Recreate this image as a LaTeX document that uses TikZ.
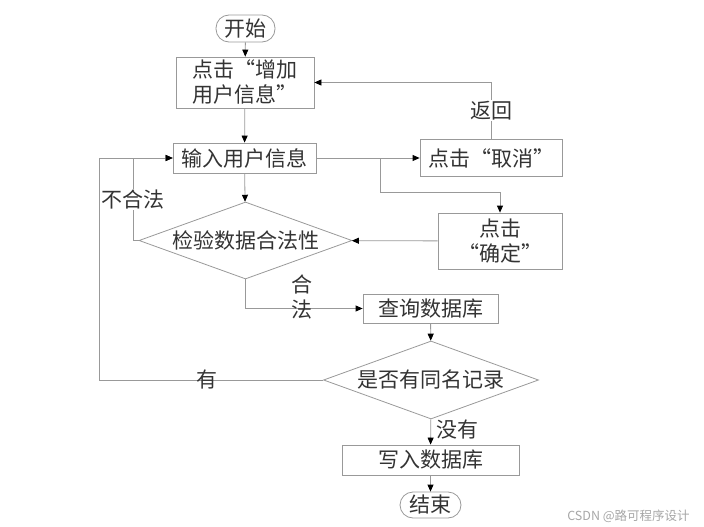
\documentclass[tikz,border=0pt]{standalone}
\usepackage{fontspec}
\setmainfont{Noto Sans CJK SC}
\usetikzlibrary{arrows.meta,shapes.geometric}
\tikzset{
  box/.style={draw=black!40, line width=0.8pt, rectangle, inner sep=0pt, align=center, text=black!80},
  term/.style={box, rounded corners=13pt},
  test/.style={draw=black!40, line width=0.8pt, diamond, aspect=2.76, inner sep=0pt, text=black!80},
  flow/.style={draw=black!40, line width=0.8pt, -{Triangle[length=7pt,width=6pt,color=black]}},
  lbl/.style={text=black!80, inner sep=1pt}
}
\begin{document}
\begin{tikzpicture}[x=1pt, y=-1pt, font=\fontsize{21}{25}\selectfont]
			%%%%% START %%%%%
			\useasboundingbox (0, 0) rectangle (704, 527);
			
			\node[term, minimum width=59pt, minimum height=27pt] (start) at (245.5, 28.5) {开始};
			\node[box, minimum width=138pt, minimum height=51pt] (add) at (245, 82.5) {点击“增加\\用户信息”};
			\node[box, minimum width=143pt, minimum height=30pt] (input) at (244.5, 158) {输入用户信息};
			\node[box, minimum width=142pt, minimum height=37pt] (cancel) at (491, 158) {点击“取消”};
			\node[box, minimum width=124pt, minimum height=56pt] (confirm) at (500, 241) {点击\\“确定”};
			\node[test, minimum width=213pt, minimum height=77pt] (check) at (245.5, 240.5) {检验数据合法性};
			\node[box, minimum width=135pt, minimum height=29pt] (query) at (430.5, 308.5) {查询数据库};
			\node[test, minimum width=215pt, minimum height=78pt] (same) at (431, 380) {是否有同名记录};
			\node[box, minimum width=177pt, minimum height=30pt] (write) at (430.5, 460) {写入数据库};
			\node[term, minimum width=61pt, minimum height=26pt] (end) at (430.5, 505) {结束};
			
			\coordinate (split) at (380, 158);
			\coordinate (bend) at (380, 192);
			\coordinate (bad) at (133, 240.5);
			\coordinate (found) at (99, 380);
			
			\draw[flow] (start) -- (add);
			\draw[flow] (add) -- (input);
			\draw[flow] (input) -- (check);
			\draw[flow] (input) -- (cancel);
			\draw[flow] (cancel.north) |- node[pos=0.25, lbl, fill=white] {返回} (add.east);
			\draw[flow] (split) -- (bend) -| (confirm.north);
			\draw[flow] (confirm) -- (check);
			\draw[flow] (check.west) -- (bad) |- node[pos=0.25, lbl, fill=white] {不合法} (input.west);
			\draw[flow] (check.south) |- (query.west);
			\node[lbl, align=center] at (302, 297) {合\\法};
			\draw[flow] (query) -- (same);
			\draw[flow] (same.west) -- (found) |- (input.west);
			\node[lbl] at (207, 380) {有};
			\draw[flow] (same) -- (write);
			\node[lbl] at (457, 430) {没有};
			\draw[flow] (write) -- (end);
			
			\node[text=black!35, font=\fontsize{12.5}{14}\selectfont] (mark) at (628.5, 516) {CSDN @路可程序设计};
			%%%%% END %%%%%
		\end{tikzpicture}
\end{document}
